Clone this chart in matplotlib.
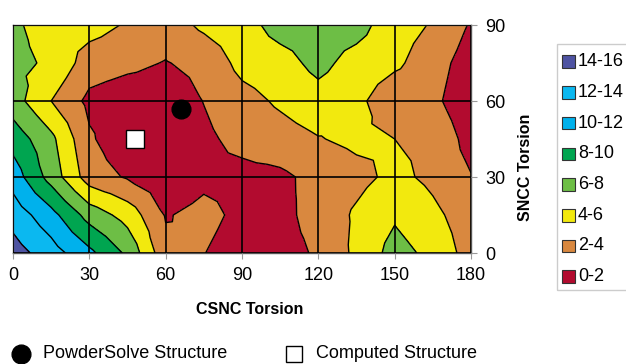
import numpy as np
import matplotlib
matplotlib.use("Agg")
import matplotlib.pyplot as plt
import matplotlib.tri as mtri
from matplotlib.patches import Rectangle
from matplotlib.lines import Line2D

plt.rcParams["font.family"] = ["Liberation Sans", "DejaVu Sans"]

# torsion grid (degrees)
csnc = [0, 15, 30, 45, 60, 75, 90, 105, 120, 135, 150, 165, 180]
sncc = [0, 15, 30, 45, 60, 75, 90]

# relative energy, one row per SNCC value
e_0 = [14.9, 12.9, 10.5, 7.6, 2.6, 2.05, 1.0, 1.4, 2.2, 4.45, 6.76, 5.45, 3.15]
e_15 = [13.2, 10.7, 7.2, 5.2, 1.85, 2.6, 1.5, 1.5, 2.66, 4.31, 5.72, 4.45, 3.0]
e_30 = [11.1, 7.2, 3.0, 1.8, 0.5, 1.5, 1.4, 1.6, 2.6, 3.4, 4.5, 3.56, 2.1]
e_45 = [9.2, 6.5, 2.3, 0.5, 0.5, 1.6, 2.6, 3.2, 3.9, 4.43, 4.0, 3.6, 1.2]
e_60 = [6.9, 4.0, 1.5, 0.8, 0.7, 2.05, 3.3, 4.3, 5.2, 4.5, 2.65, 2.47, 0.6]
e_75 = [6.5, 5.7, 3.0, 2.5, 1.9, 2.6, 4.6, 5.2, 6.6, 5.2, 4.4, 2.9, 1.0]
e_90 = [6.3, 5.2, 4.8, 3.8, 3.0, 4.4, 5.2, 6.8, 7.2, 6.8, 4.8, 3.85, 1.8]

levels = [0, 2, 4, 6, 8, 10, 12, 14, 16]
band_labels = ["0-2", "2-4", "4-6", "6-8", "8-10", "10-12", "12-14", "14-16"]
band_colors = ["#B20B2F", "#D9883F", "#F2E90E", "#6DBE45", "#00A550",
               "#00B1EC", "#0BB8F0", "#4E53A2"]

powdersolve = (66, 57)
computed = (48, 45)

# excel style surface: every cell split in 4 triangles around its centre
E = np.array([e_0, e_15, e_30, e_45, e_60, e_75, e_90])
X, Y = np.meshgrid(csnc, sncc)
nx, ny = len(csnc), len(sncc)
px, py, pz = list(X.ravel()), list(Y.ravel()), list(E.ravel())
tris = []
for j in range(ny - 1):
    for i in range(nx - 1):
        bl, br = j * nx + i, j * nx + i + 1
        tl, tr = bl + nx, br + nx
        c = len(px)
        px.append((csnc[i] + csnc[i + 1]) / 2)
        py.append((sncc[j] + sncc[j + 1]) / 2)
        pz.append(E[j:j + 2, i:i + 2].mean())
        tris += [[bl, br, c], [br, tr, c], [tr, tl, c], [tl, bl, c]]
tri = mtri.Triangulation(px, py, tris)

W, H = 626, 364
fig = plt.figure(figsize=(W / 100, H / 100), dpi=100)
ax = fig.add_axes([13 / W, 1 - 253 / H, 458 / W, 228 / H])

ax.tricontourf(tri, pz, levels=levels, colors=band_colors, zorder=1)
ax.tricontour(tri, pz, levels=levels[1:-1], colors="black", linewidths=1.0, zorder=2)

ax.set_xlim(0, 180)
ax.set_ylim(0, 90)
ax.set_xticks(range(0, 181, 30))
ax.set_yticks(range(0, 91, 30))
ax.yaxis.tick_right()
ax.grid(True, color="black", linewidth=1.2)
ax.set_axisbelow(False)
ax.tick_params(axis="both", labelsize=13, length=4, color="#999999", pad=6)
for s in ax.spines.values():
    s.set_color("#555555")
    s.set_linewidth(1.0)

ax.plot(*powdersolve, "o", color="black", ms=13.5, zorder=6, clip_on=False)
ax.plot(*computed, "s", mfc="white", mec="black", mew=1.0, ms=12.5, zorder=6)

fig.text(250 / W, 1 - 309 / H, "CSNC Torsion", ha="center", va="center",
         fontsize=11.5, fontweight="bold")
fig.text(525 / W, 1 - 167 / H, "SNCC Torsion", ha="center", va="center",
         rotation=90, fontsize=11.5, fontweight="bold")

# value legend on the right (cut off by the figure edge like the original)
fig.add_artist(Rectangle((556.5 / W, 1 - 290 / H), 90 / W, 246 / H,
                         transform=fig.transFigure, fill=False,
                         edgecolor="#CCCCCC", linewidth=1.0))
for k, (lab, col) in enumerate(zip(band_labels[::-1], band_colors[::-1])):
    yc = 1 - (61.7 + 30.7 * k) / H
    fig.add_artist(Rectangle((562 / W, yc - 6.3 / H), 12.6 / W, 12.6 / H,
                             transform=fig.transFigure, facecolor=col,
                             edgecolor="#333333", linewidth=0.8))
    fig.text(578 / W, yc, lab, ha="left", va="center", fontsize=13)

# marker legend under the chart
fig.add_artist(Line2D([21 / W], [1 - 354 / H], marker="o", color="black",
                      ms=13.5, transform=fig.transFigure))
fig.text(43 / W, 1 - 354 / H, "PowderSolve Structure", ha="left", va="center", fontsize=13)
fig.add_artist(Line2D([294 / W], [1 - 354 / H], marker="s", mfc="white", mec="black",
                      mew=1.0, ms=12, transform=fig.transFigure))
fig.text(316 / W, 1 - 354 / H, "Computed Structure", ha="left", va="center", fontsize=13)

fig.savefig("out.png", dpi=100)
